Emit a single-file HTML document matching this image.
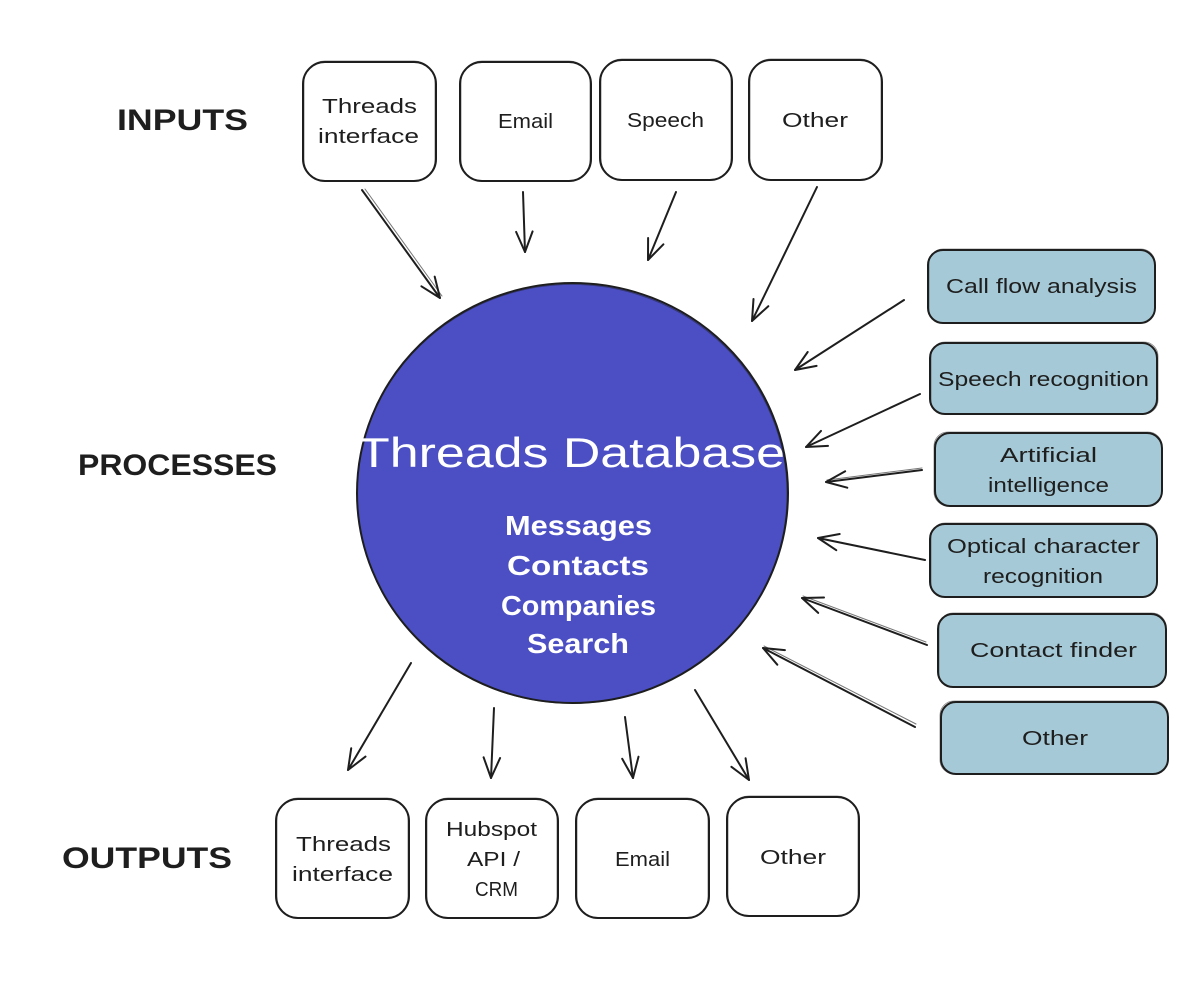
<!DOCTYPE html>
<html>
<head>
<meta charset="utf-8">
<style>
  html, body { margin: 0; padding: 0; background: #ffffff; }
  svg { display: block; }
  text { font-family: "Liberation Sans", "DejaVu Sans", sans-serif; }
</style>
</head>
<body>
<svg width="1200" height="1000" viewBox="0 0 1200 1000" xmlns="http://www.w3.org/2000/svg">
  <rect x="0" y="0" width="1200" height="1000" fill="#ffffff"/>

  <!-- Section labels -->
  <g fill="#1e1e1e" font-weight="bold" font-size="30">
    <text x="117" y="130" textLength="131" lengthAdjust="spacingAndGlyphs">INPUTS</text>
    <text x="78" y="475" textLength="199" lengthAdjust="spacingAndGlyphs">PROCESSES</text>
    <text x="62" y="868" textLength="170" lengthAdjust="spacingAndGlyphs">OUTPUTS</text>
  </g>

  <!-- Input boxes -->
  <g fill="#ffffff" stroke="#1e1e1e" stroke-width="2">
    <rect x="303" y="62" width="133" height="119" rx="22"/>
    <rect x="460" y="62" width="131" height="119" rx="22"/>
    <rect x="600" y="60" width="132" height="120" rx="22"/>
    <rect x="749" y="60" width="133" height="120" rx="22"/>
  </g>
  <g fill="none" stroke="#1e1e1e" stroke-width="0.8" opacity="0.6">
    <rect x="304" y="61" width="131" height="120" rx="21"/>
    <rect x="461" y="61" width="129" height="120" rx="21"/>
    <rect x="601" y="59" width="130" height="121" rx="21"/>
    <rect x="750" y="59" width="131" height="121" rx="21"/>
  </g>
  <g fill="#1e1e1e" font-size="20">
    <text x="322" y="113" textLength="95" lengthAdjust="spacingAndGlyphs">Threads</text>
    <text x="318" y="143" textLength="101" lengthAdjust="spacingAndGlyphs">interface</text>
    <text x="498" y="128" textLength="55" lengthAdjust="spacingAndGlyphs">Email</text>
    <text x="627" y="127" textLength="77" lengthAdjust="spacingAndGlyphs">Speech</text>
    <text x="782" y="127" textLength="66" lengthAdjust="spacingAndGlyphs">Other</text>
  </g>

  <!-- Central circle -->
  <ellipse cx="572.5" cy="493" rx="215.5" ry="210" fill="#4b4fc3" stroke="#1e1e1e" stroke-width="2"/>
  <ellipse cx="572" cy="494" rx="215" ry="209.5" fill="none" stroke="#1e1e1e" stroke-width="0.8" opacity="0.5"/>
  <g fill="#ffffff">
    <text x="358" y="467" font-size="42" textLength="427" lengthAdjust="spacingAndGlyphs">Threads Database</text>
    <g font-size="28" font-weight="bold">
      <text x="505" y="535" textLength="147" lengthAdjust="spacingAndGlyphs">Messages</text>
      <text x="507" y="575" textLength="142" lengthAdjust="spacingAndGlyphs">Contacts</text>
      <text x="501" y="615" textLength="155" lengthAdjust="spacingAndGlyphs">Companies</text>
      <text x="527" y="653" textLength="102" lengthAdjust="spacingAndGlyphs">Search</text>
    </g>
  </g>

  <!-- Process boxes -->
  <g fill="#a5c9d6" stroke="#1e1e1e" stroke-width="2">
    <rect x="928" y="250" width="227" height="73" rx="15"/>
    <rect x="930" y="343" width="227" height="71" rx="15"/>
    <rect x="935" y="433" width="227" height="73" rx="15"/>
    <rect x="930" y="524" width="227" height="73" rx="15"/>
    <rect x="938" y="614" width="228" height="73" rx="15"/>
    <rect x="941" y="702" width="227" height="72" rx="15"/>
  </g>
  <g fill="none" stroke="#1e1e1e" stroke-width="0.8" opacity="0.55">
    <rect x="929" y="249" width="226" height="74" rx="14"/>
    <rect x="931" y="342" width="227" height="72" rx="14"/>
    <rect x="934" y="432" width="228" height="74" rx="14"/>
    <rect x="931" y="523" width="226" height="74" rx="14"/>
    <rect x="939" y="613" width="227" height="74" rx="14"/>
    <rect x="940" y="701" width="228" height="73" rx="14"/>
  </g>
  <g fill="#1e1e1e" font-size="20">
    <text x="946" y="293" textLength="191" lengthAdjust="spacingAndGlyphs">Call flow analysis</text>
    <text x="938" y="386" textLength="211" lengthAdjust="spacingAndGlyphs">Speech recognition</text>
    <text x="1000" y="462" textLength="97" lengthAdjust="spacingAndGlyphs">Artificial</text>
    <text x="988" y="492" textLength="121" lengthAdjust="spacingAndGlyphs">intelligence</text>
    <text x="947" y="553" textLength="193" lengthAdjust="spacingAndGlyphs">Optical character</text>
    <text x="983" y="583" textLength="120" lengthAdjust="spacingAndGlyphs">recognition</text>
    <text x="970" y="657" textLength="167" lengthAdjust="spacingAndGlyphs">Contact finder</text>
    <text x="1022" y="745" textLength="66" lengthAdjust="spacingAndGlyphs">Other</text>
  </g>

  <!-- Output boxes -->
  <g fill="#ffffff" stroke="#1e1e1e" stroke-width="2">
    <rect x="276" y="799" width="133" height="119" rx="22"/>
    <rect x="426" y="799" width="132" height="119" rx="22"/>
    <rect x="576" y="799" width="133" height="119" rx="22"/>
    <rect x="727" y="797" width="132" height="119" rx="22"/>
  </g>
  <g fill="none" stroke="#1e1e1e" stroke-width="0.8" opacity="0.6">
    <rect x="277" y="798" width="131" height="120" rx="21"/>
    <rect x="427" y="798" width="130" height="120" rx="21"/>
    <rect x="577" y="798" width="131" height="120" rx="21"/>
    <rect x="728" y="796" width="130" height="120" rx="21"/>
  </g>
  <g fill="#1e1e1e" font-size="20">
    <text x="296" y="851" textLength="95" lengthAdjust="spacingAndGlyphs">Threads</text>
    <text x="292" y="881" textLength="101" lengthAdjust="spacingAndGlyphs">interface</text>
    <text x="446" y="836" textLength="91" lengthAdjust="spacingAndGlyphs">Hubspot</text>
    <text x="467" y="866" textLength="53" lengthAdjust="spacingAndGlyphs">API /</text>
    <text x="475" y="896" textLength="43" lengthAdjust="spacingAndGlyphs">CRM</text>
    <text x="615" y="866" textLength="55" lengthAdjust="spacingAndGlyphs">Email</text>
    <text x="760" y="864" textLength="66" lengthAdjust="spacingAndGlyphs">Other</text>
  </g>

  <!-- Arrows -->
  <g fill="none" stroke="#1e1e1e" stroke-width="2" stroke-linecap="round" stroke-linejoin="round">
    <!-- inputs -->
    <path d="M362 190 L440 298"/>
    <path d="M365 189 L442 296" stroke-width="1" opacity="0.6"/>
    <path d="M434.7 276.6 L440 298 L421.4 286.3"/>
    <path d="M523 192 L525 252"/>
    <path d="M532.6 231.4 L525 252 L516.1 231.9"/>
    <path d="M676 192 L648 260"/>
    <path d="M663.4 244.3 L648 260 L648.1 238"/>
    <path d="M817 187 L752 321"/>
    <path d="M768.3 306.2 L752 321 L753.5 299"/>

    <!-- processes -->
    <path d="M904 300 L795 370"/>
    <path d="M816.6 365.9 L795 370 L807.7 352"/>
    <path d="M920 394 L806 447"/>
    <path d="M828 445.9 L806 447 L821 430.9"/>
    <path d="M922 470 L826 482"/>
    <path d="M922 468 L827 480" stroke-width="1" opacity="0.6"/>
    <path d="M847.3 487.7 L826 482 L845.2 471.3"/>
    <path d="M925 560 L818 538"/>
    <path d="M836.3 550.2 L818 538 L839.7 534"/>
    <path d="M927 645 L802 598"/>
    <path d="M926 642 L803 596" stroke-width="1" opacity="0.6"/>
    <path d="M818.2 612.9 L802 598 L824 597.5"/>
    <path d="M915 727 L763 648"/>
    <path d="M916 724 L764 646" stroke-width="1" opacity="0.6"/>
    <path d="M777.3 664.7 L763 648 L784.9 650.1"/>

    <!-- outputs -->
    <path d="M411 663 L348 770"/>
    <path d="M365.5 756.6 L348 770 L351.2 748.3"/>
    <path d="M494 708 L491 778"/>
    <path d="M500.1 758 L491 778 L483.6 757.3"/>
    <path d="M625 717 L633 778"/>
    <path d="M638.5 756.7 L633 778 L622.2 758.8"/>
    <path d="M695 690 L749 780"/>
    <path d="M745.6 758.3 L749 780 L731.4 766.8"/>
  </g>
</svg>
</body>
</html>
